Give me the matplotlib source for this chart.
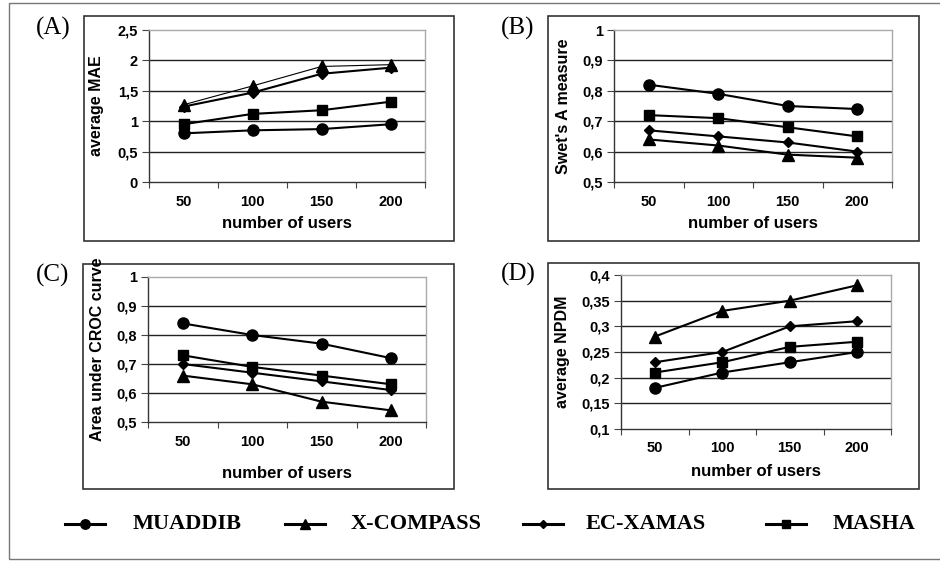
import matplotlib
matplotlib.use("Agg")
import matplotlib.pyplot as plt
from matplotlib.patches import Rectangle

W, H = 940, 561

users = ["50", "100", "150", "200"]
methods = ["MUADDIB", "X-COMPASS", "EC-XAMAS", "MASHA"]
markers = {"MUADDIB": "o", "X-COMPASS": "^", "EC-XAMAS": "D", "MASHA": "s"}
msizes = {"MUADDIB": 8, "X-COMPASS": 8, "EC-XAMAS": 5, "MASHA": 7.5}

# (A) average MAE
mae_muaddib = [0.80, 0.85, 0.87, 0.95]
mae_xcompass = [1.27, 1.58, 1.90, 1.93]
mae_ecxamas = [1.24, 1.47, 1.78, 1.88]
mae_masha = [0.95, 1.12, 1.18, 1.32]

# (B) Swet's A measure
swet_muaddib = [0.82, 0.79, 0.75, 0.74]
swet_xcompass = [0.64, 0.62, 0.59, 0.58]
swet_ecxamas = [0.67, 0.65, 0.63, 0.60]
swet_masha = [0.72, 0.71, 0.68, 0.65]

# (C) Area under CROC curve
croc_muaddib = [0.84, 0.80, 0.77, 0.72]
croc_xcompass = [0.66, 0.63, 0.57, 0.54]
croc_ecxamas = [0.70, 0.67, 0.64, 0.61]
croc_masha = [0.73, 0.69, 0.66, 0.63]

# (D) average NPDM
npdm_muaddib = [0.18, 0.21, 0.23, 0.25]
npdm_xcompass = [0.28, 0.33, 0.35, 0.38]
npdm_ecxamas = [0.23, 0.25, 0.30, 0.31]
npdm_masha = [0.21, 0.23, 0.26, 0.27]


def fx(x):
    return x / W


def fy(y):
    return 1 - y / H


def rect(fig, x0, y0, x1, y1, color="#333333", lw=1.2):
    fig.patches.append(Rectangle((fx(x0), fy(y1)), fx(x1) - fx(x0), fy(y0) - fy(y1),
                                 transform=fig.transFigure, fill=False,
                                 edgecolor=color, lw=lw, zorder=0))


def panel(fig, box, axbox, series, yticks, yticklabels, ylabel, ylab_x,
          xtick_y, xlab_y, letter, letter_xy, thin=None):
    rect(fig, *box)
    x0, y0, x1, y1 = axbox
    ax = fig.add_axes([fx(x0), fy(y1), fx(x1) - fx(x0), fy(y0) - fy(y1)])
    xs = list(range(len(users)))
    for name, vals in series:
        lw = 0.8 if name == thin else 1.5
        ax.plot(xs, vals, color="black", lw=lw, marker=markers[name],
                ms=msizes[name], mfc="black", mec="black", zorder=3)
    ax.set_xlim(-0.5, 3.5)
    ax.set_ylim(yticks[0], yticks[-1])
    ax.set_yticks(yticks)
    ax.set_yticklabels(yticklabels, fontweight="bold", fontsize=10.5,
                       family="Liberation Sans")
    ax.set_xticks([-0.5, 0.5, 1.5, 2.5, 3.5])
    ax.set_xticklabels([])
    ax.tick_params(axis="x", direction="out", length=4, color="#444444")
    ax.tick_params(axis="y", direction="out", length=5, color="#444444", pad=3)
    for y in yticks[1:-1]:
        ax.axhline(y, color="#222222", lw=1.0, zorder=1)
    for s in ["top", "right"]:
        ax.spines[s].set_color("#aaaaaa")
        ax.spines[s].set_linewidth(1.0)
    for s in ["left", "bottom"]:
        ax.spines[s].set_color("#333333")
        ax.spines[s].set_linewidth(1.0)
    for i, lab in enumerate(users):
        fig.text(fx(x0 + (x1 - x0) * (i + 0.5) / 4), fy(xtick_y), lab,
                 ha="center", va="center", fontsize=10.5, fontweight="bold",
                 family="Liberation Sans")
    fig.text(fx((x0 + x1) / 2), fy(xlab_y), "number of users", ha="center",
             va="center", fontsize=12, fontweight="bold", family="Liberation Sans")
    fig.text(fx(ylab_x), fy((y0 + y1) / 2), ylabel, rotation=90, ha="center",
             va="center", fontsize=11.5, fontweight="bold", family="Liberation Sans")
    fig.text(fx(letter_xy[0]), fy(letter_xy[1]), letter, ha="center", va="center",
             fontsize=18, family="Liberation Serif")
    return ax


fig = plt.figure(figsize=(W / 100, H / 100), dpi=100)

# outer frame
rect(fig, 9, 3, 945, 559, color="#777777", lw=1.0)

panel(fig, (84, 16, 454, 241), (149, 30, 425, 182),
      [("MUADDIB", mae_muaddib), ("MASHA", mae_masha),
       ("EC-XAMAS", mae_ecxamas), ("X-COMPASS", mae_xcompass)],
      [0, 0.5, 1, 1.5, 2, 2.5], ["0", "0,5", "1", "1,5", "2", "2,5"],
      "average MAE", 97, 202, 223, "(A)", (53, 28), thin="X-COMPASS")

panel(fig, (548, 16, 919, 241), (614, 30, 892, 182),
      [("MUADDIB", swet_muaddib), ("X-COMPASS", swet_xcompass),
       ("EC-XAMAS", swet_ecxamas), ("MASHA", swet_masha)],
      [0.5, 0.6, 0.7, 0.8, 0.9, 1.0], ["0,5", "0,6", "0,7", "0,8", "0,9", "1"],
      "Swet's A measure", 563, 202, 223, "(B)", (518, 28))

panel(fig, (83, 264, 454, 489), (148, 277, 426, 422),
      [("MUADDIB", croc_muaddib), ("X-COMPASS", croc_xcompass),
       ("EC-XAMAS", croc_ecxamas), ("MASHA", croc_masha)],
      [0.5, 0.6, 0.7, 0.8, 0.9, 1.0], ["0,5", "0,6", "0,7", "0,8", "0,9", "1"],
      "Area under CROC curve", 97, 442, 474, "(C)", (53, 275))

panel(fig, (548, 263, 919, 489), (621, 275, 891, 429),
      [("MUADDIB", npdm_muaddib), ("X-COMPASS", npdm_xcompass),
       ("EC-XAMAS", npdm_ecxamas), ("MASHA", npdm_masha)],
      [0.1, 0.15, 0.2, 0.25, 0.3, 0.35, 0.4],
      ["0,1", "0,15", "0,2", "0,25", "0,3", "0,35", "0,4"],
      "average NPDM", 563, 448, 472, "(D)", (518, 274))

# legend row drawn on an invisible full-figure axes
lax = fig.add_axes([0, 0, 1, 1])
lax.set_xlim(0, W)
lax.set_ylim(H, 0)
lax.axis("off")
leg_line_x = [65, 285, 523, 766]
leg_text_x = [133, 351, 586, 833]
leg_y = 524
for name, lx, tx in zip(methods, leg_line_x, leg_text_x):
    lax.plot([lx, lx + 40], [leg_y, leg_y], color="black", lw=2.2)
    lax.plot([lx + 20], [leg_y], color="black", marker=markers[name],
             ms=msizes[name] * 0.85, ls="none")
    lax.text(tx, leg_y, name, ha="left", va="center", fontsize=16,
             fontweight="bold", family="Liberation Serif")

fig.savefig("out.png", dpi=100)
